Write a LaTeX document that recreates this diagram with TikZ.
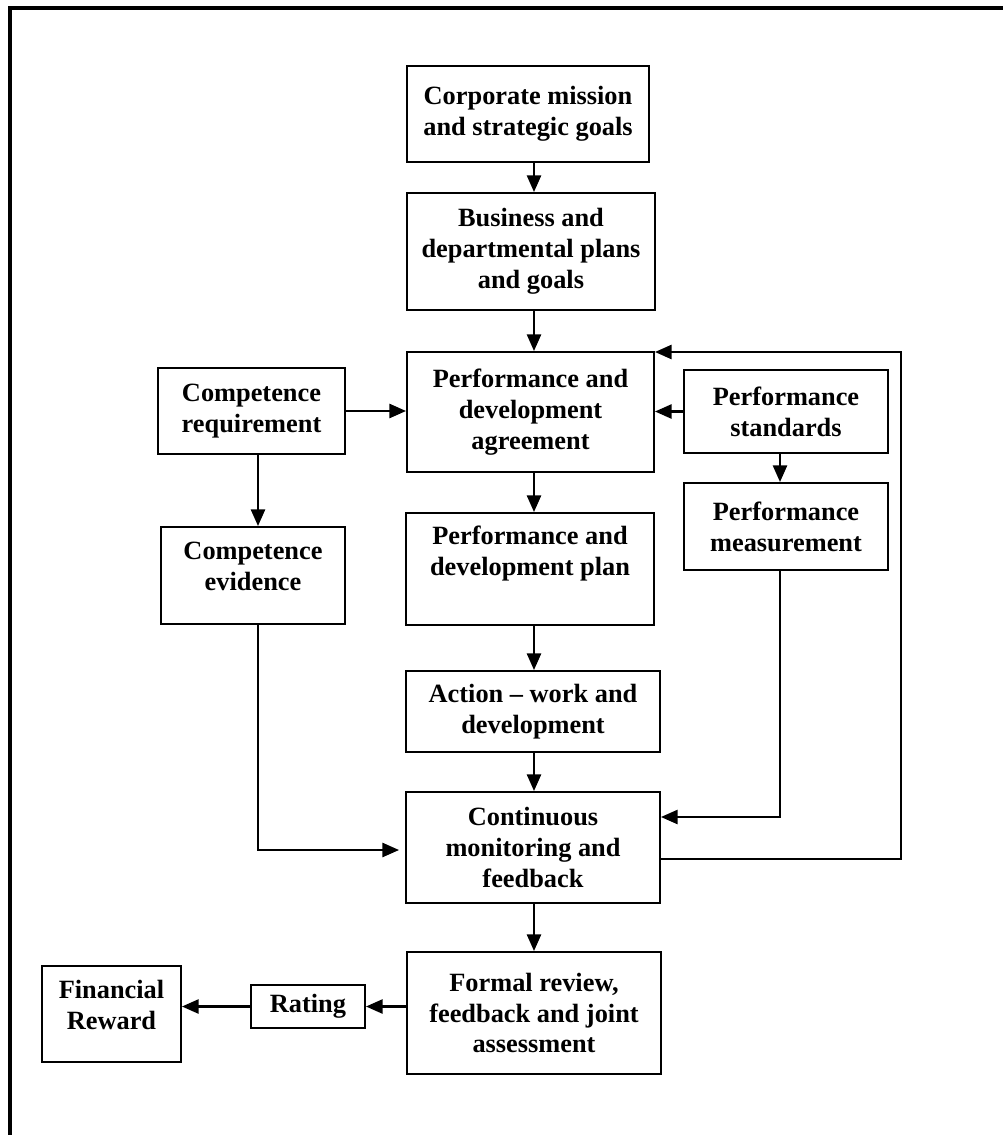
\documentclass[tikz,border=0pt]{standalone}
\usepackage{fontspec}
\setmainfont{Liberation Serif}
\usetikzlibrary{arrows.meta}

\tikzset{
    stage/.style={draw, line width=1.1pt, align=center, inner sep=2pt,
        font=\bfseries\fontsize{15}{17.6}\selectfont},
    link/.style={line width=1.4pt, -{Triangle[length=9.5pt,width=8pt]}},
}

\begin{document}
\begin{tikzpicture}[x=0.02cm, y=-0.02cm]
    \useasboundingbox (0,0) rectangle (1003,1135);
    \draw[line width=1.8pt] (10,1135) -- (10,8) -- (1003,8);

    % main column
    \node[stage, minimum width=4.84cm, minimum height=1.92cm] (corp) at (528,114) {Corporate mission\\ and strategic goals};
    \node[stage, minimum width=4.96cm, minimum height=2.34cm] (biz) at (531,251.5) {Business and\\ departmental plans\\ and goals};
    \node[stage, minimum width=4.94cm, minimum height=2.40cm] (agree) at (530.5,412) {Performance and\\ development\\ agreement};
    \node[stage, minimum width=4.96cm, minimum height=2.24cm] (plan) at (530,569) {Performance and\\ development plan\\[3pt]\mbox{}};
    \node[stage, minimum width=5.08cm, minimum height=1.62cm] (action) at (533,711.5) {Action -- work and\\ development};
    \node[stage, minimum width=5.08cm, minimum height=2.22cm] (cmf) at (533,847.5) {Continuous\\ monitoring and\\ feedback};
    \node[stage, minimum width=5.08cm, minimum height=2.44cm] (formal) at (534,1013) {Formal review,\\ feedback and joint\\ assessment};

    % side boxes
    \node[stage, minimum width=3.74cm, minimum height=1.72cm] (compreq) at (251.5,411) {Competence\\ requirement};
    \node[stage, minimum width=3.68cm, minimum height=1.94cm] (evid) at (253,575.5) {Competence\\ evidence\\[-7pt]\mbox{}};
    \node[stage, minimum width=4.08cm, minimum height=1.66cm] (std) at (786,411.5) {Performance\\ standards};
    \node[stage, minimum width=4.08cm, minimum height=1.74cm] (meas) at (786,526.5) {Performance\\ measurement};
    \node[stage, minimum width=2.28cm, minimum height=0.86cm] (rating) at (308,1006.5) {Rating};
    \node[stage, minimum width=2.78cm, minimum height=1.92cm] (fin) at (111.5,1014) {Financial\\ Reward\\[-7pt]\mbox{}};

    \coordinate (col) at (534,0);
    \coordinate (loop) at (901,352);

    \draw[link] (col |- corp.south) -- (col |- biz.north);
    \draw[link] (col |- biz.south) -- (col |- agree.north);
    \draw[link] (col |- agree.south) -- (col |- plan.north);
    \draw[link] (col |- plan.south) -- (col |- action.north);
    \draw[link] (col |- action.south) -- (col |- cmf.north);
    \draw[link] (col |- cmf.south) -- (col |- formal.north);

    \draw[link] (compreq.east) -- (agree.west |- compreq.east);
    \draw[link] (std.west) -- (agree.east |- std.west);
    \draw[link] ([xshift=-0.12cm]std.south) -- ([xshift=-0.12cm]meas.north);
    \draw[link] ([xshift=0.13cm]compreq.south) -- ([xshift=0.13cm]compreq.south |- evid.north);

    \draw[link] ([xshift=0.1cm]evid.south) |- ([xshift=-0.12cm]cmf.west |- 0,850);
    \draw[link] ([xshift=-0.12cm]meas.south) |- (cmf.east |- 0,817);
    \draw[link] (cmf.east |- 0,859) -| (loop) -- (agree.north east |- loop);

    \draw[link] (formal.west |- rating.east) -- (rating.east);
    \draw[link] (rating.west) -- (fin.east |- rating.west);
\end{tikzpicture}
\end{document}
